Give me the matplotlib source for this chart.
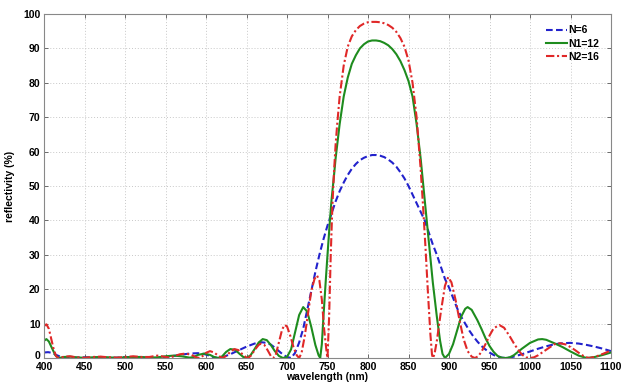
import matplotlib
matplotlib.use("Agg")
import matplotlib.pyplot as plt
from matplotlib import font_manager
from matplotlib.transforms import ScaledTranslation

names = {f.name for f in font_manager.fontManager.ttflist}
fam = "Liberation Sans Narrow" if "Liberation Sans Narrow" in names else "Liberation Sans"
plt.rcParams['font.family'] = [fam, 'DejaVu Sans']

# ---- data ----
wl_n6 = [400, 405, 410, 415, 420, 425, 430, 440, 450, 460, 470, 480, 490, 500, 510, 520, 530, 540,
         550, 560, 570, 580, 590, 595, 600, 605, 610, 615, 620, 630, 640, 650, 660, 668, 675, 680,
         685, 690, 695, 700, 705, 710, 715, 720, 725, 730, 735, 740, 745, 750, 755, 760, 765, 770,
         775, 780, 785, 790, 795, 800, 805, 810, 815, 820, 825, 830, 835, 840, 845, 850, 855, 860,
         865, 870, 875, 880, 885, 890, 895, 900,
         905, 910, 915, 920, 925, 930, 935, 940, 945, 950, 955, 960, 965, 970, 975, 980, 990, 1000,
         1010, 1020, 1030, 1040, 1050, 1060, 1070, 1080, 1090, 1100]
r_n6 = [1.6, 1.7, 1.5, 0.9, 0.4, 0.1, 0.0, 0.1, 0.2, 0.2, 0.1, 0.0, 0.1, 0.25, 0.3, 0.2, 0.05, 0.0,
        0.2, 0.6, 1.0, 1.3, 1.4, 1.3, 1.0, 0.6, 0.2, 0.0, 0.2, 1.1, 2.2, 3.3, 4.2, 4.6, 4.4, 3.9,
        3.0, 2.0, 1.0, 0.3, 0.0, 1.5, 4.5, 8.5, 14, 19.5, 25, 30, 34.5, 38.5, 42, 45.5, 48.5, 51,
        53.2, 55, 56.4, 57.5, 58.2, 58.7, 59, 59, 58.8, 58.4, 57.7, 56.8, 55.6, 54, 52.2, 50, 47.5, 45,
        42.5, 40, 36.5, 33, 30, 26.5, 23, 20.5,
        17.5, 14.5, 12, 10, 8, 6.3, 4.8, 3.5, 2.5, 1.6, 0.9, 0.4, 0.1, 0.0, 0.1, 0.4, 1.1, 1.9,
        2.7, 3.4, 4.0, 4.3, 4.4, 4.2, 3.8, 3.3, 2.7, 2.0]

wl_n12 = [400, 403, 406, 410, 414, 418, 425, 432, 440, 450, 460, 470, 480, 490, 500, 510, 520, 530,
          540, 550, 560, 570, 580, 585, 590, 598, 605, 610, 615, 620, 625, 630, 636, 641, 646, 650,
          655, 660, 665, 670, 675, 680, 685, 690, 695, 700, 705, 710, 715, 720, 725, 730, 735, 739,
          741, 743, 745, 748, 750, 753, 755, 758, 760, 765, 770, 775, 780, 785, 790, 795, 800, 805,
          810, 815, 820, 825, 830, 835, 840, 845, 850, 855, 860, 865, 870, 875, 880, 885, 889, 892,
          895, 900, 905, 910, 915, 920, 923,
          928, 935, 940, 945, 950, 955, 960, 965, 970, 975, 980, 990, 1000, 1010, 1015, 1020, 1030,
          1040, 1050, 1060, 1070, 1080, 1090, 1100]
r_n12 = [5.0, 5.5, 4.8, 2.8, 0.8, 0.0, 0.3, 0.4, 0.2, 0.05, 0.2, 0.3, 0.2, 0.05, 0.2, 0.3, 0.3, 0.1,
         0.2, 0.5, 0.7, 0.5, 0.1, 0.3, 0.9, 1.3, 0.9, 0.3, 0.0, 0.5, 1.8, 2.6, 2.4, 1.3, 0.3, 0.0,
         0.8, 2.6, 4.5, 5.5, 5.2, 3.8, 2.0, 0.6, 0.0, 0.3, 2.5, 7.5, 12.5, 14.8, 13.5, 9.0, 3.8, 0.8,
         0.0, 4, 12, 23, 30, 40, 46, 53, 58, 68, 76, 81.5, 85.5, 88, 90, 91.2, 92, 92.3,
         92.3, 92.1, 91.6, 90.9, 89.8, 88.3, 86.3, 83.7, 80.5, 76, 68, 58, 46, 34, 22, 12, 5, 1.2,
         0.0, 1.2, 4, 8, 12, 14.3, 14.8,
         14, 11, 8.5, 5.8, 3.5, 1.8, 0.6, 0.1, 0.0, 0.2, 0.8, 2.7, 4.4, 5.4, 5.5, 5.3, 4.3,
         3.2, 1.9, 0.7, 0.0, 0.3, 0.9, 1.6]

wl_n16 = [400, 403, 406, 409, 412, 415, 418, 425, 432, 440, 450, 460, 470, 480, 490, 500, 510, 520,
          530, 540, 548, 555, 560, 568, 575, 582, 588, 592, 596, 600, 605, 610, 615, 620, 625, 630,
          635, 640, 645, 650, 652, 656, 660, 665, 668, 672, 676, 680, 683, 686, 690, 694, 697, 700,
          704, 708, 712, 715, 718, 722, 726, 730, 734, 737, 740, 743, 746, 749, 750, 752, 754, 756,
          758, 760, 762, 765, 770, 775, 780, 785, 790, 795, 800, 805, 810, 815, 820, 825, 830, 835,
          840, 845, 850, 855, 860, 865,
          868, 871, 874, 877, 879, 880, 882, 885, 890, 895, 899, 903, 908, 913, 918, 923, 928, 932,
          936, 940, 945, 950, 955, 962, 968, 975, 980, 985, 990, 995, 1000, 1005, 1010, 1020, 1030,
          1037, 1045, 1055, 1062, 1068, 1073, 1080, 1090, 1100]
r_n16 = [9.3, 9.8, 8.5, 5.5, 2.5, 0.5, 0.0, 0.4, 0.5, 0.2, 0.05, 0.3, 0.4, 0.2, 0.1, 0.3, 0.5, 0.3,
         0.3, 0.7, 0.4, 0.1, 0.5, 1.1, 1.3, 0.9, 0.2, 0.0, 0.6, 1.5, 2.0, 1.6, 0.7, 0.0, 0.6, 1.8,
         2.6, 2.3, 1.1, 0.1, 0.0, 0.8, 2.3, 3.8, 4.2, 3.8, 2.3, 0.6, 0.0, 0.8, 4.5, 8.3, 9.6, 9.2,
         6.5, 3.2, 0.8, 0.0, 1.5, 6.5, 13, 19.5, 23, 24, 22.5, 17, 8, 1.5, 0.0, 12, 30, 44,
         54, 62, 68, 76, 85, 90.5, 93.5, 95.3, 96.5, 97.2, 97.6, 97.7, 97.7, 97.6, 97.3, 96.8, 96, 94.8,
         93, 90.5, 86.5, 80, 70, 55,
         44, 32, 19, 7, 1, 0.0, 1, 5, 13.5, 21, 23.5, 22, 17, 11, 5.5, 2, 0.4, 0.0,
         0.5, 1.8, 4, 6.5, 8.6, 9.6, 8.8, 6.3, 4.3, 2.5, 1.0, 0.2, 0.0, 0.2, 0.8, 2.4, 4.0,
         4.3, 3.9, 2.4, 1.2, 0.3, 0.0, 0.3, 1.2, 2.2]

labels = ["N=6", "N1=12", "N2=16"]
x_ticks = list(range(400, 1101, 50))
y_ticks = list(range(0, 101, 10))

fig = plt.figure(figsize=(6.25, 3.82), dpi=100)
ax = fig.add_axes([0.0704, 0.0628, 0.9072, 0.9006])

ax.plot(wl_n6, r_n6, color='#2222cc', linestyle=(0, (3.2, 1.6)), linewidth=1.5, label=labels[0])
ax.plot(wl_n12, r_n12, color='#1e8c1e', linestyle='-', linewidth=1.5, label=labels[1])
ax.plot(wl_n16, r_n16, color='#e02828', linestyle=(0, (4, 1.3, 1, 1.3)), linewidth=1.5, label=labels[2])

ax.set_xlim(400, 1100)
ax.set_ylim(0, 100)
ax.set_xticks(x_ticks)
ax.set_yticks(y_ticks)
ax.grid(True, linestyle=(0, (1, 2)), color='#c8c8c8', linewidth=0.7)
ax.tick_params(direction='in', length=3, width=0.6, top=True, right=True,
               labelsize=7.5, color='#555555')
ax.tick_params(axis='x', pad=3)
ax.tick_params(axis='y', pad=2.5)
for lab in ax.get_xticklabels() + ax.get_yticklabels():
    lab.set_fontweight('bold')
for s in ax.spines.values():
    s.set_color('#888888')
    s.set_linewidth(0.8)

# nudge the "0" y label slightly up so it does not touch "400"
ylab0 = ax.get_yticklabels()[0]
ylab0.set_transform(ylab0.get_transform() + ScaledTranslation(0, 2.0 / 72, fig.dpi_scale_trans))

ax.set_xlabel("wavelength (nm)", fontsize=7.5, fontweight='bold', labelpad=0)
ax.set_ylabel("reflectivity (%)", fontsize=7.5, fontweight='bold', labelpad=6)

leg = ax.legend(loc='upper right', bbox_to_anchor=(0.99, 0.985), frameon=False,
                prop={'weight': 'bold', 'size': 7.5}, handlelength=2.0,
                handletextpad=0.15, labelspacing=0.3, borderaxespad=0.2)

fig.savefig("out.png", dpi=100)
